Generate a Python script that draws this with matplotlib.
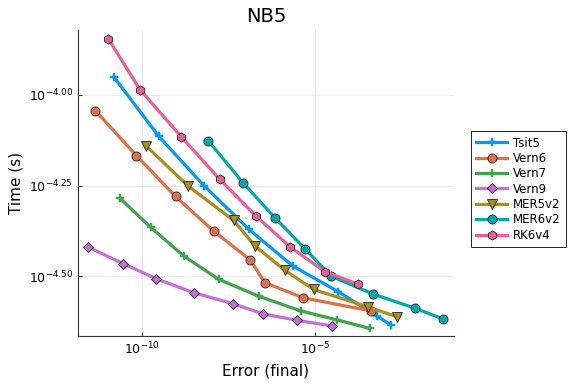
import matplotlib
matplotlib.use("Agg")
import matplotlib.pyplot as plt
from matplotlib.ticker import FixedLocator, FuncFormatter, NullLocator
import numpy as np

# log10 values
names = ["Tsit5", "Vern6", "Vern7", "Vern9", "MER5v2", "MER6v2", "RK6v4"]

tsit5_err = [-10.82, -9.53, -8.22, -6.92, -5.65, -4.33, -3.21, -2.81]
tsit5_time = [-3.952, -4.114, -4.250, -4.370, -4.471, -4.542, -4.609, -4.633]

vern6_err = [-11.36, -10.17, -9.04, -7.93, -6.87, -6.46, -5.34, -3.38]
vern6_time = [-4.044, -4.168, -4.280, -4.376, -4.455, -4.517, -4.559, -4.595]

vern7_err = [-10.65, -9.76, -8.80, -7.79, -6.62, -5.41, -4.35, -3.42]
vern7_time = [-4.285, -4.365, -4.444, -4.508, -4.555, -4.595, -4.620, -4.643]

vern9_err = [-11.56, -10.55, -9.61, -8.51, -7.38, -6.51, -5.52, -4.52]
vern9_time = [-4.420, -4.465, -4.506, -4.545, -4.575, -4.603, -4.621, -4.636]

mer5_err = [-9.88, -8.68, -7.36, -6.74, -5.88, -5.04, -3.47, -2.63]
mer5_time = [-4.142, -4.251, -4.346, -4.416, -4.483, -4.536, -4.584, -4.611]

mer6_err = [-8.09, -7.09, -6.15, -5.28, -4.54, -3.31, -2.12, -1.30]
mer6_time = [-4.127, -4.242, -4.340, -4.425, -4.499, -4.549, -4.587, -4.617]

rk6_err = [-10.98, -10.07, -8.87, -7.76, -6.72, -5.72, -4.71, -3.77]
rk6_time = [-3.847, -3.986, -4.116, -4.233, -4.333, -4.419, -4.487, -4.521]

series = [
    (tsit5_err, tsit5_time, "#009AFA", "P"),
    (vern6_err, vern6_time, "#E36F47", "o"),
    (vern7_err, vern7_time, "#3EA44E", "P"),
    (vern9_err, vern9_time, "#C371D2", "D"),
    (mer5_err, mer5_time, "#AC8D18", "v"),
    (mer6_err, mer6_time, "#00A9AD", "o"),
    (rk6_err, rk6_time, "#ED5E93", "h"),
]

fig = plt.figure(figsize=(5.76, 3.84), dpi=100)
ax = fig.add_axes([0.135, 0.125, 0.653, 0.797])

for name, (ex, ty, col, mk) in zip(names, series):
    ex = 10.0 ** np.array(ex)
    ty = 10.0 ** np.array(ty)
    if mk == "P":
        ax.plot(ex, ty, color=col, lw=2.3, marker=mk, ms=6, mec=col, mew=0.3, label=name)
    else:
        ms = 5.5 if mk == "D" else 6.5
        ax.plot(ex, ty, color=col, lw=2.3, marker=mk, ms=ms, mec="#222222", mew=0.6, label=name)

ax.set_xscale("log")
ax.set_yscale("log")
ax.set_xlim(10 ** -11.87, 10 ** -0.98)
ax.set_ylim(10 ** -4.664, 10 ** -3.822)

ax.xaxis.set_major_locator(FixedLocator([1e-10, 1e-5]))
ax.xaxis.set_minor_locator(NullLocator())
ax.xaxis.set_major_formatter(FuncFormatter(lambda v, p: r"$10^{%d}$" % round(np.log10(v))))
ax.yaxis.set_major_locator(FixedLocator([10 ** -4.0, 10 ** -4.25, 10 ** -4.5]))
ax.yaxis.set_minor_locator(NullLocator())
ax.yaxis.set_major_formatter(FuncFormatter(lambda v, p: r"$10^{%.2f}$" % np.log10(v)))

ax.grid(True, color="#e6e6e6", lw=0.6)
ax.set_axisbelow(True)
for s in ["top", "right"]:
    ax.spines[s].set_visible(False)
for s in ["left", "bottom"]:
    ax.spines[s].set_color("#333333")
ax.tick_params(labelsize=9, length=3, color="#333333", direction="in")

ax.set_xlabel("Error (final)", fontsize=11)
ax.set_ylabel("Time (s)", fontsize=11)
ax.set_title("NB5", fontsize=14)

leg = ax.legend(loc="center left", bbox_to_anchor=(1.03, 0.48), fontsize=8.5,
                fancybox=False, edgecolor="#222222", framealpha=1,
                handlelength=2.6, borderpad=0.45, labelspacing=0.2, handletextpad=0.5)
leg.get_frame().set_linewidth(0.7)

fig.savefig("out.png", dpi=100)
